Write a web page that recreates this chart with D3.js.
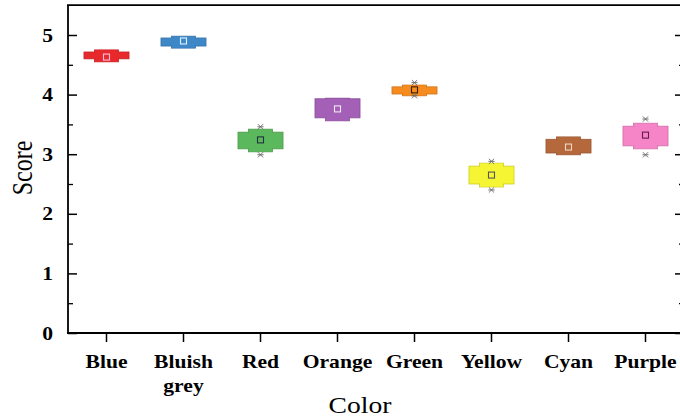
<!DOCTYPE html>
<html><head><meta charset="utf-8">
<script src="https://cdn.jsdelivr.net/npm/d3@7"></script>
<style>body{margin:0;background:#fff}svg{display:block}</style>
</head><body>
<svg id="c" width="680" height="419"></svg>
<script>
const categories = ["Blue","Bluish grey","Red","Orange","Green","Yellow","Cyan","Purple"];
const q1   = [4.60, 4.815, 3.09, 3.61, 4.01, 2.50, 3.02, 3.14];
const q3   = [4.715,4.95,  3.37, 3.93, 4.13, 2.80, 3.25, 3.47];
const lo   = [4.55, 4.78,  3.04, 3.56, 3.98, 2.45, 2.99, 3.09];
const hi   = [4.75, 4.98,  3.42, 3.94, 4.16, 2.85, 3.29, 3.52];
const mean = [4.63, 4.90,  3.24, 3.76, 4.08, 2.65, 3.12, 3.32];
const minMark = [null, null, 2.99, null, 3.98, 2.40, null, 2.99];
const maxMark = [null, null, 3.46, null, 4.20, 2.88, null, 3.59];
const boxColors = ["#e8292c","#3f88c8","#5cb85c","#a45fb6","#f68b1f","#f5f533","#b5683c","#f585c6"];
const meanStroke = ["#fbd","#def","#234","#f4e8f8","#3a1f00","#555","#f0d8c0","#6a1850"];
const yTicks = [0,1,2,3,4,5];
const yMinor = [0.5,1.5,2.5,3.5,4.5];
const yTitle = "Score", xTitle = "Color";

const svg = d3.select("#c");
const SX = 1.2;
const x = d3.scaleBand().domain(categories).range([68, 684]);
const y = d3.scaleLinear().domain([0, 5.5]).range([333, 5.2]);
const bw = x.bandwidth();
const serif = "'Liberation Serif','Times New Roman',serif";

const g = svg.append("g");
categories.forEach((c, i) => {
  const cx = x(c) + bw/2;
  const col = boxColors[i];
  const dark = d3.color(col).darker(0.5);
  const wW = bw*0.585, nW = bw*0.31;
  g.append("rect").attr("x", cx - nW/2).attr("width", nW)
    .attr("y", y(hi[i])).attr("height", y(lo[i]) - y(hi[i]))
    .attr("fill", col).attr("stroke", dark).attr("stroke-width", 0.8);
  g.append("rect").attr("x", cx - wW/2).attr("width", wW)
    .attr("y", y(q3[i])).attr("height", y(q1[i]) - y(q3[i]))
    .attr("fill", col).attr("stroke", dark).attr("stroke-width", 0.8);
  g.append("rect").attr("x", cx - nW/2 + 0.5).attr("width", nW - 1)
    .attr("y", y(hi[i]) + 0.5).attr("height", y(lo[i]) - y(hi[i]) - 1)
    .attr("fill", col);
  [minMark[i], maxMark[i]].forEach(v => {
    if (v == null) return;
    const my = y(v), s = 2.6;
    g.append("path").attr("d",
      `M${cx-s},${my-s}L${cx+s},${my+s}M${cx-s},${my+s}L${cx+s},${my-s}M${cx-s-0.5},${my}L${cx+s+0.5},${my}`)
      .attr("stroke", "#666").attr("stroke-width", 0.9).attr("fill", "none");
  });
  g.append("rect").attr("x", cx - 3).attr("y", y(mean[i]) - 3)
    .attr("width", 6).attr("height", 6)
    .attr("fill", "none").attr("stroke", meanStroke[i]).attr("stroke-width", 1.1);
});

// Left axis
const yl = svg.append("g").attr("transform", "translate(68,0)")
  .call(d3.axisLeft(y).tickValues(yTicks).tickFormat(d3.format("d")).tickSizeInner(-9).tickSizeOuter(0).tickPadding(15));
yl.select(".domain").remove();
yl.selectAll("line").attr("stroke", "#000").attr("stroke-width", 1.5);
yl.selectAll("text").attr("font-family", serif).attr("font-size", 18).attr("font-weight", "bold")
  .attr("fill", "#000").attr("x", -15/SX).attr("transform", `scale(${SX},1)`).attr("dy", "0.34em");
svg.append("g").attr("transform", "translate(68,0)")
  .call(d3.axisLeft(y).tickValues(yMinor).tickFormat("").tickSizeInner(-5).tickSizeOuter(0))
  .call(a => a.select(".domain").remove())
  .selectAll("line").attr("stroke", "#000").attr("stroke-width", 1.3);

// Right axis (partly off-canvas)
svg.append("g").attr("transform", "translate(684,0)")
  .call(d3.axisRight(y).tickValues(yTicks).tickFormat("").tickSizeInner(-9).tickSizeOuter(0))
  .call(a => a.select(".domain").remove())
  .selectAll("line").attr("stroke", "#000").attr("stroke-width", 1.5);
svg.append("g").attr("transform", "translate(684,0)")
  .call(d3.axisRight(y).tickValues(yMinor).tickFormat("").tickSizeInner(-5).tickSizeOuter(0))
  .call(a => a.select(".domain").remove())
  .selectAll("line").attr("stroke", "#000").attr("stroke-width", 1.3);

// Bottom axis
const xb = svg.append("g").attr("transform", "translate(0,333)")
  .call(d3.axisBottom(x).tickSizeInner(9).tickSizeOuter(0).tickPadding(6));
xb.select(".domain").remove();
xb.selectAll("line").attr("stroke", "#000").attr("stroke-width", 1.5);
xb.selectAll("text").each(function(d) {
  const t = d3.select(this);
  const words = d.split(" ");
  t.text(null).attr("font-family", serif).attr("font-size", 18).attr("font-weight", "bold")
    .attr("fill", "#000").attr("y", 35).attr("dy", null).attr("transform", `scale(${SX},1)`);
  words.forEach((w, k) => t.append("tspan").attr("x", 0).attr("dy", k ? 24 : 0).text(w));
});

// Frame lines
svg.append("line").attr("x1", 68).attr("x2", 68).attr("y1", 5.2).attr("y2", 334)
  .attr("stroke", "#000").attr("stroke-width", 1.8);
svg.append("line").attr("x1", 67).attr("x2", 684).attr("y1", 333).attr("y2", 333)
  .attr("stroke", "#000").attr("stroke-width", 1.8);
svg.append("line").attr("x1", 67).attr("x2", 684).attr("y1", 5.2).attr("y2", 5.2)
  .attr("stroke", "#000").attr("stroke-width", 1.8);
svg.append("line").attr("x1", 684).attr("x2", 684).attr("y1", 5.2).attr("y2", 333)
  .attr("stroke", "#000").attr("stroke-width", 1.8);

// Titles
svg.append("text").attr("transform", `translate(360,413) scale(${SX},1)`)
  .attr("text-anchor", "middle").attr("font-family", serif).attr("font-size", 23)
  .attr("fill", "#000").text(xTitle);
svg.append("text").attr("transform", `translate(32,168) rotate(-90) scale(1,${SX})`)
  .attr("text-anchor", "middle").attr("font-family", serif).attr("font-size", 24)
  .attr("fill", "#000").text(yTitle);
</script>
</body></html>
